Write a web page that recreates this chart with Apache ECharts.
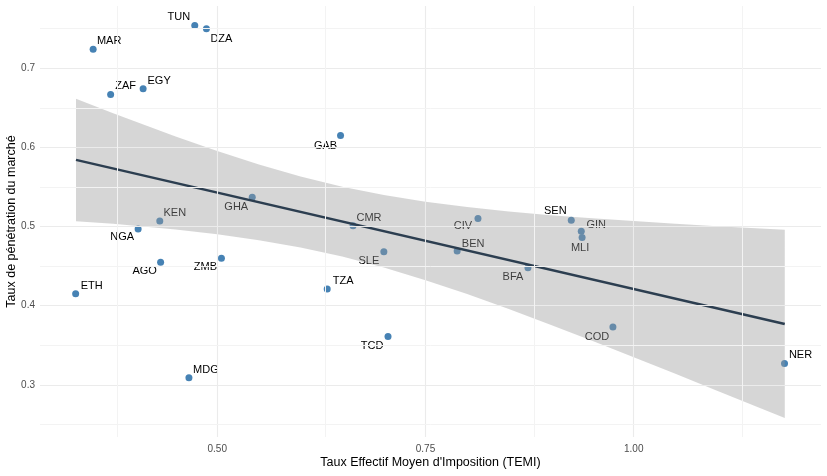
<!DOCTYPE html>
<html>
<head>
<meta charset="utf-8">
<script src="https://cdn.jsdelivr.net/npm/echarts@6/dist/echarts.min.js"></script>
<style>
html,body{margin:0;padding:0;background:#fff;}
#chart{width:827px;height:476px;}
</style>
</head>
<body>
<div id="chart"></div>
<script>
// ---- data ----
var countries = ['TUN','DZA','MAR','ZAF','EGY','GAB','GHA','KEN','NGA','CMR','CIV','SEN','GIN','MLI','BEN','BFA','COD','NER','SLE','AGO','ZMB','ETH','TZA','TCD','MDG'];
var temi = [0.473,0.487,0.351,0.372,0.411,0.648,0.542,0.431,0.405,0.663,0.813,0.925,0.937,0.938,0.788,0.873,0.975,1.181,0.700,0.432,0.505,0.330,0.632,0.705,0.466];
var penetration = [0.754,0.750,0.724,0.667,0.674,0.615,0.537,0.507,0.497,0.501,0.510,0.508,0.494,0.486,0.469,0.448,0.373,0.327,0.468,0.455,0.460,0.415,0.421,0.361,0.309];

// fitted line (endpoints)
var fitX = [0.3304, 1.1813];
var fitY = [0.5842, 0.3767];

// confidence band
var bandX     = [0.3304,0.375,0.45,0.50,0.55,0.60,0.65,0.70,0.75,0.80,0.85,0.90,0.95,1.00,1.05,1.10,1.1813];
var bandUpper = [0.6616,0.6431,0.6137,0.5954,0.5784,0.5633,0.5504,0.5399,0.5314,0.5246,0.5191,0.5144,0.5104,0.5069,0.5035,0.5005,0.4960];
var bandLower = [0.5068,0.5035,0.4963,0.4902,0.4828,0.4735,0.4620,0.4481,0.4322,0.4146,0.3957,0.3760,0.3556,0.3349,0.3139,0.2925,0.2580];

// axis ticks
var xTicks = [0.50, 0.75, 1.00];
var yTicks = [0.3, 0.4, 0.5, 0.6, 0.7];
var xMinorTicks = [0.375, 0.625, 0.875, 1.125];
var yMinorTicks = [0.25, 0.35, 0.45, 0.55, 0.65, 0.75];

// ---- label placement (style, px offsets of label centre from point centre) ----
var labelOffsets = {
  TUN:[-16,-9], DZA:[15,10], MAR:[16,-8], ZAF:[15,-8], EGY:[16,-8], GAB:[-15,10],
  GHA:[-16,10], KEN:[15,-8], NGA:[-16,8], CMR:[16,-8], CIV:[-15,7], SEN:[-16,-9],
  GIN:[15,-6], MLI:[-2,10], BEN:[16,-7], BFA:[-15,9], COD:[-16,10], NER:[16,-8],
  SLE:[-15,9], AGO:[-16,9], ZMB:[-16,9], ETH:[16,-8], TZA:[16,-8], TCD:[-16,9], MDG:[17,-8]
};

var FONT = '"Liberation Sans", Arial, Helvetica, sans-serif';
var chart = echarts.init(document.getElementById('chart'), null, {renderer:'canvas'});

var pts = countries.map(function(c,i){ return [temi[i], penetration[i], i]; });

var gridLines = [];
xTicks.forEach(function(v){ gridLines.push({xAxis:v, lineStyle:{color:'#ebebeb', width:1.1}}); });
yTicks.forEach(function(v){ gridLines.push({yAxis:v, lineStyle:{color:'#ebebeb', width:1.1}}); });
xMinorTicks.forEach(function(v){ gridLines.push({xAxis:v, lineStyle:{color:'#f3f3f3', width:1}}); });
yMinorTicks.forEach(function(v){ gridLines.push({yAxis:v, lineStyle:{color:'#f3f3f3', width:1}}); });

var option = {
  animation: false,
  backgroundColor: '#ffffff',
  grid: {left:40, right:6, top:6, bottom:39, containLabel:false, outerBoundsMode:'none'},
  xAxis: {
    type:'value', min:0.2872, max:1.2248,
    name:"Taux Effectif Moyen d'Imposition (TEMI)",
    nameLocation:'middle', nameGap:19, nameMoveOverlap:false,
    nameTextStyle:{color:'#000', fontSize:12.5, fontFamily:FONT},
    axisLine:{show:false}, axisTick:{show:false}, splitLine:{show:false},
    axisLabel:{customValues:xTicks, color:'#4d4d4d', fontSize:10, fontFamily:FONT, margin:7,
      formatter:function(v){return v.toFixed(2);}}
  },
  yAxis: {
    type:'value', min:0.234, max:0.7787,
    name:'Taux de pénétration du marché',
    nameLocation:'middle', nameGap:22, nameMoveOverlap:false,
    nameTextStyle:{color:'#000', fontSize:12.5, fontFamily:FONT},
    axisLine:{show:false}, axisTick:{show:false}, splitLine:{show:false},
    axisLabel:{customValues:yTicks, color:'#4d4d4d', fontSize:10, fontFamily:FONT, margin:5,
      formatter:function(v){return v.toFixed(1);}}
  },
  series: [
    {
      type:'line', data:[], z:0, silent:true,
      markLine:{silent:true, symbol:['none','none'], label:{show:false}, animation:false,
        lineStyle:{type:'solid'}, data:gridLines}
    },
    {
      type:'custom', z:2, silent:true, data:pts,
      encode:{x:0, y:1},
      renderItem:function(params, api){
        var p = api.coord([api.value(0), api.value(1)]);
        var name = countries[api.value(2)];
        var o = labelOffsets[name] || [0,0];
        return {type:'group', children:[
          {type:'circle', shape:{cx:p[0], cy:p[1], r:3.5}, style:{fill:'#4682b4'}},
          {type:'text', x:p[0]+o[0], y:p[1]+o[1],
            style:{text:name, align:'center', verticalAlign:'middle',
              font:'11px ' + FONT, fill:'#000'}}
        ]};
      }
    },
    {
      type:'custom', z:3, silent:true, data:[0],
      renderItem:function(params, api){
        var up = bandX.map(function(x,i){ return api.coord([x, bandUpper[i]]); });
        var lo = bandX.map(function(x,i){ return api.coord([x, bandLower[i]]); }).reverse();
        return {type:'polygon', shape:{points:up.concat(lo)},
          style:{fill:'rgba(153,153,153,0.4)', stroke:null}};
      }
    },
    {
      type:'line', z:4, silent:true, symbol:'none',
      data: fitX.map(function(x,i){ return [x, fitY[i]]; }),
      lineStyle:{color:'#2c3e50', width:2.5}
    }
  ]
};
chart.setOption(option);
</script>
</body>
</html>
